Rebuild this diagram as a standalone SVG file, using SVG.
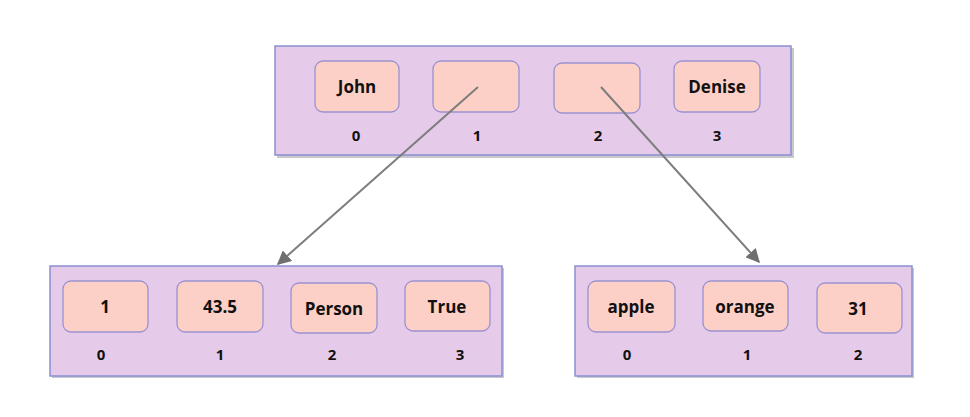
<svg xmlns="http://www.w3.org/2000/svg" width="970" height="417" viewBox="0 0 970 417">
<style>
.cont{fill:#e6caea;stroke:#8a8ecf;stroke-width:1.5}
.shadow{fill:#9a9aa6;opacity:0.55}
.cell{fill:#fdd0c7;stroke:#9a92d0;stroke-width:1.3}
.val{font-family:"Open Sans","Liberation Sans",sans-serif;font-weight:bold;font-size:17px;fill:#111;text-anchor:middle}
.idx{font-family:"Open Sans","Liberation Sans",sans-serif;font-weight:bold;font-size:15px;fill:#111;text-anchor:middle}
.conn{stroke:#7d7d7d;stroke-width:2;fill:none}
</style>
<defs>
<marker id="arr" viewBox="0 0 10 10" refX="9" refY="5" markerWidth="7" markerHeight="7" orient="auto" markerUnits="strokeWidth">
<path d="M0,0 L10,5 L0,10 z" fill="#6f6f6f"/>
</marker>
</defs>
<rect width="970" height="417" fill="#ffffff"/>

<g id="list-top">
<rect class="shadow" x="277" y="48" width="517" height="110"/>
<rect class="cont" x="275" y="46" width="516" height="109"/>
<g id="top-0"><rect class="cell" x="315" y="61" width="84" height="51" rx="8"/><text class="val" x="357" y="93">John</text><text class="idx" x="356" y="141">0</text></g>
<g id="top-1"><rect class="cell" x="433" y="61" width="86" height="51" rx="8"/><text class="idx" x="477" y="141">1</text></g>
<g id="top-2"><rect class="cell" x="554" y="63" width="86" height="50" rx="8"/><text class="idx" x="598" y="141">2</text></g>
<g id="top-3"><rect class="cell" x="674" y="61" width="86" height="51" rx="8"/><text class="val" x="717" y="93">Denise</text><text class="idx" x="717" y="141">3</text></g>
</g>

<g id="list-left">
<rect class="shadow" x="52" y="268" width="452" height="110"/>
<rect class="cont" x="50" y="266" width="452" height="110"/>
<g id="left-0"><rect class="cell" x="63" y="281" width="85" height="51" rx="8"/><text class="val" x="105" y="313">1</text><text class="idx" x="101" y="360">0</text></g>
<g id="left-1"><rect class="cell" x="177" y="281" width="86" height="51" rx="8"/><text class="val" x="220" y="313">43.5</text><text class="idx" x="220" y="360">1</text></g>
<g id="left-2"><rect class="cell" x="291" y="283" width="86" height="50" rx="8"/><text class="val" x="334" y="315">Person</text><text class="idx" x="332" y="360">2</text></g>
<g id="left-3"><rect class="cell" x="405" y="281" width="85" height="50" rx="8"/><text class="val" x="447" y="313">True</text><text class="idx" x="460" y="360">3</text></g>
</g>

<g id="list-right">
<rect class="shadow" x="577" y="268" width="337" height="110"/>
<rect class="cont" x="575" y="266" width="337" height="110"/>
<g id="right-0"><rect class="cell" x="588" y="281" width="87" height="51" rx="8"/><text class="val" x="631" y="313">apple</text><text class="idx" x="627" y="360">0</text></g>
<g id="right-1"><rect class="cell" x="703" y="281" width="85" height="50" rx="8"/><text class="val" x="745" y="313">orange</text><text class="idx" x="747" y="360">1</text></g>
<g id="right-2"><rect class="cell" x="817" y="283" width="85" height="50" rx="8"/><text class="val" x="858" y="315">31</text><text class="idx" x="858" y="360">2</text></g>
</g>

<g id="connectors">
<line class="conn" x1="478" y1="87" x2="278" y2="264" marker-end="url(#arr)"/>
<line class="conn" x1="601" y1="87" x2="759" y2="262" marker-end="url(#arr)"/>
</g>
</svg>
